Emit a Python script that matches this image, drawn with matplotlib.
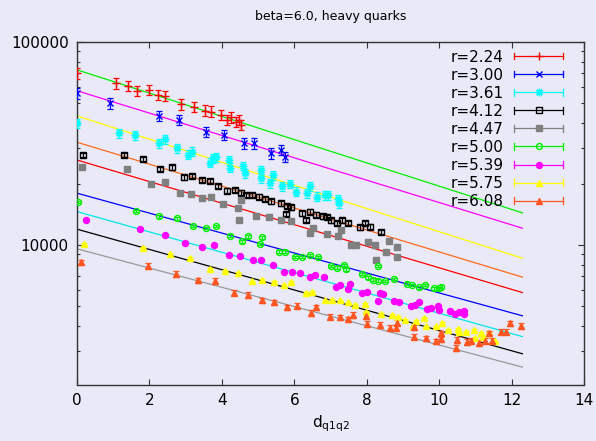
import numpy as np
import matplotlib
matplotlib.use("Agg")
import matplotlib.pyplot as plt
from matplotlib.ticker import LogLocator, NullFormatter
from matplotlib.legend_handler import HandlerLine2D
from matplotlib.lines import Line2D

plt.rcParams['font.family'] = ['DejaVu Sans']
plt.rcParams['mathtext.default'] = 'regular'

labels = ["r=2.24", "r=3.00", "r=3.61", "r=4.12", "r=4.47", "r=5.00", "r=5.39", "r=5.75", "r=6.08"]

r224_x = [0, 1.07, 1.41, 1.66, 1.99, 2.24, 2.44, 2.88, 3.23, 3.53, 3.71, 3.99, 4.13, 4.24, 4.38, 4.47, 4.54]
r224_y = [70100, 62600, 60900, 57400, 58000, 54800, 54200, 49300, 48000, 45900,
          45400, 43700, 41300, 42600, 40500, 41300, 39000]

r300_x = [0, 0.92, 2.26, 2.82, 3.57, 4.05, 4.60, 4.88, 5.37, 5.64, 5.74]
r300_y = [55900, 49900, 43200, 41300, 36100, 34800, 31700, 31700, 28300, 29400, 27200]

r361_x = [0, 1.15, 1.60, 2.27, 2.44, 2.77, 3.07, 3.18, 3.67, 3.76, 3.85, 4.19, 4.22, 4.58, 4.63,
          5.07, 5.09, 5.32, 5.41, 5.67, 5.89, 6.04, 6.35, 6.43, 6.63, 6.84, 6.93, 7.21, 7.23]
r361_y = [39800, 35500, 34800, 31700, 33200, 29900, 27800, 28800, 25400, 26700, 27000, 26200, 24000, 24500, 22600,
          21300, 23400, 20100, 22100, 19400, 20000, 18300, 18000, 19400, 17300, 17600, 17600, 16800, 16000]

r412_x = [0.17, 1.30, 1.82, 2.29, 2.61, 2.96, 3.18, 3.44, 3.67, 3.90, 4.15, 4.36, 4.52, 4.66, 4.82, 5.02, 5.18, 5.37,
          5.64, 5.76, 5.80, 5.92, 6.22, 6.33, 6.43, 6.61, 6.78, 6.90, 7.02, 7.18, 7.33, 7.48, 7.81, 7.94, 8.08, 8.40]
r412_y = [27800, 27800, 26500, 23700, 24100, 21500, 21900, 20900, 20700, 19500, 18500, 18700, 18100, 17600, 17600, 17300, 16800, 16400,
          16000, 14200, 15600, 15300, 14300, 13300, 14600, 14100, 13800, 13700, 13200, 12800, 13200, 12800, 12200, 12800, 12300, 11600]

r447_x = [0.15, 1.38, 2.04, 2.44, 2.84, 3.16, 3.44, 3.69, 4.03, 4.45, 4.47, 4.52, 4.95, 5.29, 5.64,
          5.92, 6.44, 6.52, 6.91, 7.21, 7.30, 7.56, 7.71, 8.03, 8.22, 8.25, 8.52, 8.61, 8.85, 8.85]
r447_y = [24300, 23600, 19900, 20300, 18100, 17800, 17100, 17300, 15900, 15200, 13300, 16700, 13800, 13700, 13300,
          13100, 11400, 12100, 11300, 11000, 11900, 10000, 9930, 10300, 9930, 8430, 9200, 10400, 9810, 8750]

r500_x = [0.03, 1.62, 2.27, 2.76, 3.19, 3.57, 3.85, 4.22, 4.57, 4.72, 5.06, 5.12, 5.58, 5.75, 6.01, 6.22, 6.44, 6.66,
          7.02, 7.18, 7.36, 7.44, 7.88, 8.03, 8.16, 8.31, 8.31, 8.51, 8.74, 9.11, 9.26, 9.43, 9.60, 9.86, 9.99, 10.04]
r500_y = [16300, 14700, 13800, 13500, 12400, 12100, 12400, 11100, 10400, 11000, 10100, 10900, 9270, 9270, 8700, 8700, 8930, 8700,
          7880, 7730, 7970, 7590, 7200, 6930, 6730, 6670, 7880, 6650, 6780, 6430, 6350, 6170, 6350, 6110, 6110, 6230]

r539_x = [0.24, 1.73, 2.42, 2.98, 3.44, 3.78, 4.20, 4.51, 4.86, 5.09, 5.40, 5.72, 5.95, 6.17, 6.43, 6.56, 6.81, 7.16, 7.25, 7.48,
          7.55, 7.88, 8.02, 8.31, 8.36, 8.45, 8.74, 8.89, 9.23, 9.32, 9.43, 9.67, 9.78, 9.97, 9.99, 10.29, 10.43, 10.54, 10.68, 10.70]
r539_y = [13300, 12000, 11200, 10200, 9750, 9970, 8930, 8860, 8380, 8440, 7970, 7390, 7310, 7250, 6980, 7120, 6980, 6230, 6350, 6070,
          6430, 5820, 5850, 5300, 5780, 5710, 5260, 5200, 5010, 5060, 5200, 4840, 4910, 5010, 4790, 4730, 4560, 4660, 4730, 4560]

r575_x = [0.19, 1.82, 2.58, 3.13, 3.68, 4.10, 4.45, 4.82, 5.12, 5.44, 5.72, 5.90, 6.32, 6.50, 6.84, 7.05, 7.25, 7.48, 7.67, 7.94,
          7.97, 8.40, 8.70, 8.86, 9.07, 9.28, 9.35, 9.57, 9.65, 9.90, 10.09, 10.24, 10.52, 10.55, 10.75, 10.95, 11.00, 11.15, 11.21, 11.39, 11.55]
r575_y = [10100, 9700, 8990, 8590, 7590, 7470, 7260, 6600, 6730, 6550, 6350, 6590, 5780, 5850, 5320, 5360, 5320, 5200, 5060, 5120,
          4690, 4560, 4520, 4400, 4270, 3960, 4230, 4380, 3960, 3960, 4110, 3810, 3860, 3720, 3740, 3810, 3490, 3670, 3530, 3670, 3340]

r608_x = [0.12, 1.95, 2.72, 3.34, 3.80, 4.33, 4.72, 5.11, 5.44, 5.81, 6.08, 6.45, 6.59, 6.98, 7.25, 7.47, 7.62, 7.99, 8.02, 8.38,
          8.65, 8.80, 8.84, 9.30, 9.30, 9.65, 9.90, 10.04, 10.06, 10.47, 10.50, 10.77, 10.89, 11.09, 11.26, 11.39, 11.46, 11.72, 11.85, 11.97, 12.27]
r608_y = [8220, 7880, 7180, 6700, 6650, 5820, 5670, 5320, 5200, 4930, 5020, 4610, 4930, 4430, 4400, 4300, 4520, 4470, 4080, 4030,
          3910, 3910, 4140, 3920, 3530, 3470, 3340, 3670, 3430, 3100, 3400, 3320, 3370, 3280, 3370, 3670, 3370, 3740, 3740, 4110, 3990]

# rough relative error per series
rel_err = [0.06, 0.06, 0.05, 0.025, 0.015, 0.015, 0.01, 0.01, 0.03]

# exponential fits: value at d=0 and at d=12.3
fit_x = [0, 12.3]
fit_start = [72900, 57500, 43200, 32060, 26200, 17980, 14590, 11950, 9560]
fit_end = [14380, 12080, 8590, 6935, 5820, 4470, 3530, 2905, 2497]
fit_colors = ['#00ee00', '#ff00ff', '#ffff00', '#ff6a1a', '#ff0000', '#0000ff', '#00e8e8', '#000000', '#999999']

xs = [r224_x, r300_x, r361_x, r412_x, r447_x, r500_x, r539_x, r575_x, r608_x]
ys = [r224_y, r300_y, r361_y, r412_y, r447_y, r500_y, r539_y, r575_y, r608_y]
colors = ['#ff0000', '#0000ff', '#00ffff', '#000000', '#808080', '#00ee00', '#ff00ff', '#ffff00', '#ff5522']
markers = ['+', 'x', (8, 2, 0), 's', 's', 'o', 'o', '^', '^']
filled = [True, True, True, False, True, False, True, True, True]
msizes = [5.5, 4.5, 5.5, 4.5, 4.5, 4.3, 4.3, 5, 3.8]


class CapHandler(HandlerLine2D):
    def create_artists(self, legend, orig, xdescent, ydescent, width, height, fontsize, trans):
        arts = super().create_artists(legend, orig, xdescent, ydescent, width, height, fontsize, trans)
        yc = (height - ydescent) / 2
        h = height * 0.3
        for xe in (-xdescent, width - xdescent):
            cap = Line2D([xe, xe], [yc - h, yc + h], color=orig.get_color(), lw=orig.get_linewidth())
            cap.set_transform(trans)
            arts.append(cap)
        return arts


bg = '#e9e9f7'
fig = plt.figure(figsize=(5.96, 4.41), dpi=100, facecolor=bg)
ax = fig.add_axes([77 / 596, (441 - 384.5) / 441, (584 - 77) / 596, (384.5 - 42) / 441])
ax.set_facecolor(bg)

for i in range(len(fit_start)):
    ax.plot(fit_x, [fit_start[i], fit_end[i]], color=fit_colors[i], lw=0.9, zorder=2)

handles = []
for i in range(len(xs)):
    x = np.array(xs[i])
    y = np.array(ys[i], dtype=float)
    mfc = colors[i] if filled[i] else 'none'
    ax.errorbar(x, y, yerr=y * rel_err[i], fmt='none', ecolor=colors[i], elinewidth=0.9,
                capsize=2.2, capthick=0.9, zorder=3)
    ax.plot(x, y, ls='none', marker=markers[i], ms=msizes[i], color=colors[i],
            mfc=mfc, mec=colors[i], mew=1.0, zorder=4)
    handles.append(Line2D([], [], color=colors[i], lw=0.9, marker=markers[i], ms=msizes[i],
                          mfc=mfc, mec=colors[i], mew=1.0))

ax.set_yscale('log')
ax.set_xlim(0, 14)
ax.set_ylim(2050, 100000)
ax.set_xticks(range(0, 15, 2))
ax.set_yticks([10000, 100000])
ax.set_yticklabels(['10000', '100000'])
ax.yaxis.set_minor_locator(LogLocator(base=10, subs=np.arange(2, 10)))
ax.yaxis.set_minor_formatter(NullFormatter())
ax.tick_params(which='both', direction='in', top=True, right=True, labelsize=11, color='#333333')
ax.tick_params(which='major', length=4.5, width=0.8, pad=6)
ax.tick_params(which='minor', length=2.5, width=0.8)
for s in ax.spines.values():
    s.set_color('#333333')
    s.set_linewidth(1.0)

ax.set_title('beta=6.0, heavy quarks', fontsize=9, pad=16)
ax.set_xlabel('d$_{q1q2}$', fontsize=11, labelpad=4)

ax.legend(handles, labels, handler_map={Line2D: CapHandler(numpoints=1)}, loc='upper right',
          bbox_to_anchor=(0.9586, 0.978), frameon=False, borderaxespad=0, borderpad=0,
          markerfirst=False, fontsize=11, labelspacing=0.2, handlelength=3.2, handletextpad=0.7)

fig.savefig('out.png', dpi=100, facecolor=bg)
